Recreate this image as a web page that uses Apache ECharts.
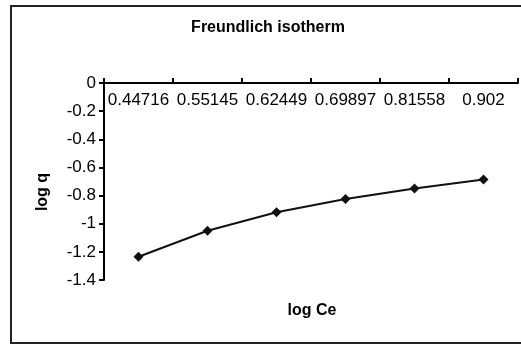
<!DOCTYPE html>
<html>
<head>
<meta charset="utf-8">
<script src="https://cdn.jsdelivr.net/npm/echarts@6/dist/echarts.min.js"></script>
<style>
  html, body { margin: 0; padding: 0; background: #fff; }
  #chart { width: 521px; height: 345px; }
</style>
</head>
<body>
<div id="chart"></div>
<script>
// x categories (log Ce) and y values (log q)
var logCe = ['0.44716', '0.55145', '0.62449', '0.69897', '0.81558', '0.902'];
var logQ = [-1.235, -1.05, -0.919, -0.824, -0.749, -0.685];

var chart = echarts.init(document.getElementById('chart'));

var font = 'Arial, "Liberation Sans", sans-serif';

var option = {
  backgroundColor: '#fff',
  animation: false,
  graphic: [{
    type: 'rect',
    shape: { x: 11, y: 6, width: 520, height: 337 },
    style: { fill: 'none', stroke: '#222', lineWidth: 2 }
  }, {
    type: 'text',
    x: 268, y: 28,
    style: { text: 'Freundlich isotherm', fontFamily: font, fontSize: 16, fontWeight: 'bold', fill: '#000', align: 'center', verticalAlign: 'middle' }
  }, {
    type: 'text',
    x: 312, y: 311,
    style: { text: 'log Ce', fontFamily: font, fontSize: 16, fontWeight: 'bold', fill: '#000', align: 'center', verticalAlign: 'middle' }
  }, {
    type: 'text',
    x: 43, y: 192,
    rotation: Math.PI / 2,
    style: { text: 'log q', fontFamily: font, fontSize: 16, fontWeight: 'bold', fill: '#000', align: 'center', verticalAlign: 'middle' }
  }],
  grid: {
    left: 104,
    right: 3,
    top: 83,
    bottom: 65,
    containLabel: false
  },
  xAxis: {
    type: 'category',
    position: 'top',
    data: logCe,
    boundaryGap: true,
    axisLine: { lineStyle: { color: '#000', width: 2 } },
    axisTick: { show: true, inside: false, length: 5, interval: 0, lineStyle: { color: '#000', width: 2 } },
    axisLabel: { inside: true, interval: 0, hideOverlap: false, margin: 9, color: '#000', fontFamily: font, fontSize: 17 },
    splitLine: { show: false }
  },
  yAxis: {
    type: 'value',
    min: -1.4,
    max: 0,
    interval: 0.2,
    axisLine: { show: true, onZero: false, lineStyle: { color: '#000', width: 2 } },
    axisTick: { show: true, length: 5, lineStyle: { color: '#000', width: 2 } },
    axisLabel: { color: '#000', fontFamily: font, fontSize: 17, margin: 8 },
    splitLine: { show: false }
  },
  series: [{
    type: 'line',
    data: logQ,
    symbol: 'diamond',
    symbolSize: 10,
    lineStyle: { color: '#111', width: 2 },
    itemStyle: { color: '#111' }
  }]
};

chart.setOption(option);
</script>
</body>
</html>
